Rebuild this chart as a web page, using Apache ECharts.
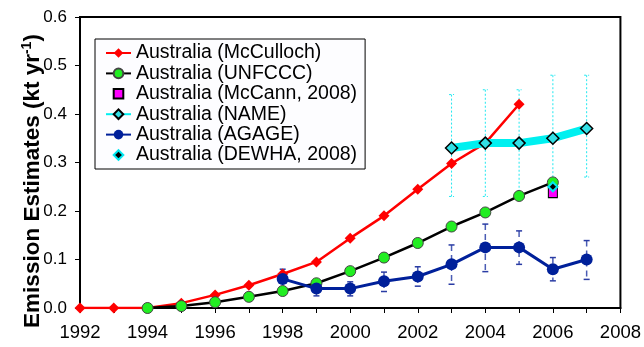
<!DOCTYPE html>
<html>
<head>
<meta charset="utf-8">
<script src="https://cdn.jsdelivr.net/npm/echarts@6/dist/echarts.min.js"></script>
<style>
  html, body { margin: 0; padding: 0; background: #fff; }
  #chart { width: 644px; height: 347px; }
</style>
</head>
<body>
<div id="chart"></div>
<script>
// Australian emission estimates (kt/yr) from several inventories and inversions
const mccullochYears  = [1992, 1993, 1994, 1995, 1996, 1997, 1998, 1999, 2000, 2001, 2002, 2003, 2004, 2005];
const mccullochValues = [0, 0, 0, 0.01, 0.027, 0.047, 0.07, 0.095, 0.144, 0.19, 0.245, 0.298, 0.34, 0.42];

const unfcccYears  = [1994, 1995, 1996, 1997, 1998, 1999, 2000, 2001, 2002, 2003, 2004, 2005, 2006];
const unfcccValues = [0, 0.004, 0.012, 0.023, 0.035, 0.051, 0.076, 0.104, 0.134, 0.168, 0.197, 0.231, 0.259];

const mccannYears  = [2006];
const mccannValues = [0.24];

const nameYears  = [2003, 2004, 2005, 2006, 2007];
const nameValues = [0.33, 0.34, 0.34, 0.35, 0.37];
const nameLow    = [0.23, 0.23, 0.23, 0.25, 0.27];
const nameHigh   = [0.44, 0.45, 0.45, 0.48, 0.48];

const agageYears  = [1998, 1999, 2000, 2001, 2002, 2003, 2004, 2005, 2006, 2007];
const agageValues = [0.06, 0.04, 0.04, 0.055, 0.065, 0.09, 0.125, 0.125, 0.08, 0.1];
const agageLow    = [0.04, 0.025, 0.025, 0.034, 0.045, 0.049, 0.075, 0.09, 0.056, 0.059];
const agageHigh   = [0.08, 0.053, 0.054, 0.074, 0.085, 0.13, 0.173, 0.159, 0.104, 0.139];

const dewhaYears  = [2006];
const dewhaValues = [0.25];

const yTicks = [0, 0.1, 0.2, 0.3, 0.4, 0.5, 0.6];
const xTicks = [1992, 1994, 1996, 1998, 2000, 2002, 2004, 2006, 2008];

const FONT = 'Liberation Sans, Arial, sans-serif';
const pairs = (xs, ys) => xs.map((x, i) => [x, ys[i]]);

// vertical error bar drawn through the axis scales
function errorBars(id, xs, lo, hi, barStyle, capStyle, capHalf, z) {
  return {
    type: 'custom',
    id: id,
    name: id,
    silent: true,
    z: z,
    data: xs.map((x, i) => [x, lo[i], hi[i]]),
    encode: { x: 0, y: [1, 2] },
    renderItem: function (params, api) {
      const x = api.value(0);
      const top = api.coord([x, api.value(2)]);
      const bot = api.coord([x, api.value(1)]);
      return {
        type: 'group',
        children: [
          { type: 'line', shape: { x1: top[0], y1: top[1], x2: bot[0], y2: bot[1] }, style: barStyle },
          { type: 'line', shape: { x1: top[0] - capHalf, y1: top[1], x2: top[0] + capHalf, y2: top[1] }, style: capStyle },
          { type: 'line', shape: { x1: bot[0] - capHalf, y1: bot[1], x2: bot[0] + capHalf, y2: bot[1] }, style: capStyle }
        ]
      };
    }
  };
}

const chart = echarts.init(document.getElementById('chart'), null, { renderer: 'canvas' });

const legendNames = [
  'Australia (McCulloch)',
  'Australia (UNFCCC)',
  'Australia (McCann, 2008)',
  'Australia (NAME)',
  'Australia (AGAGE)',
  'Australia (DEWHA, 2008)'
];

chart.setOption({
  backgroundColor: '#fff',
  animation: false,
  grid: {
    left: 80, right: 23, top: 17, bottom: 39,
    show: true, borderColor: '#000', borderWidth: 2, backgroundColor: '#fff'
  },
  legend: {
    data: legendNames,
    orient: 'vertical',
    left: 95, top: 39,
    itemWidth: 25, itemHeight: 12, itemGap: 0.4,
    padding: [4, 8, 4, 10],
    backgroundColor: '#fdfdff',
    borderColor: '#000', borderWidth: 1,
    selectedMode: false,
    textStyle: { fontFamily: FONT, fontSize: 19.5, color: '#000', lineHeight: 19 }
  },
  xAxis: {
    type: 'value',
    min: xTicks[0], max: xTicks[xTicks.length - 1], interval: 2,
    axisLine: { show: true, lineStyle: { color: '#000', width: 2 } },
    axisTick: { show: true, length: 5, lineStyle: { color: '#000', width: 1 } },
    minorTick: { show: true, splitNumber: 2, length: 5, lineStyle: { color: '#000', width: 1 } },
    axisLabel: { margin: 15, fontFamily: FONT, fontSize: 18.5, color: '#000', formatter: v => String(v) },
    splitLine: { show: false }
  },
  yAxis: {
    type: 'value',
    min: yTicks[0], max: yTicks[yTicks.length - 1], interval: 0.1,
    axisLine: { show: true, lineStyle: { color: '#000', width: 2 } },
    axisTick: { show: true, length: 5, lineStyle: { color: '#000', width: 1 } },
    axisLabel: { margin: 13, fontFamily: FONT, fontSize: 17, color: '#000', formatter: v => v.toFixed(1) },
    splitLine: { show: false }
  },
  graphic: [{
    type: 'text',
    x: 32, y: 181,
    rotation: Math.PI / 2,
    style: {
      text: '{b|Emission Estimates (kt yr}{s|-1}{b|)}',
      align: 'center',
      verticalAlign: 'middle',
      rich: {
        b: { fontFamily: FONT, fontSize: 22.5, fontWeight: 'bold', fill: '#000', lineHeight: 24, verticalAlign: 'bottom' },
        s: { fontFamily: FONT, fontSize: 14, fontWeight: 'bold', fill: '#000', lineHeight: 24, verticalAlign: 'top' }
      }
    }
  }],
  series: [
    errorBars('NAME range', nameYears, nameLow, nameHigh,
      { stroke: '#22e8f0', lineWidth: 1, lineDash: [2, 2] },
      { stroke: '#22e8f0', lineWidth: 1, lineDash: [2, 2] }, 2.5, 1),
    errorBars('AGAGE range', agageYears, agageLow, agageHigh,
      { stroke: '#4a5cb4', lineWidth: 1.5, lineDash: [6, 4] },
      { stroke: '#2a3ca4', lineWidth: 1.5 }, 3, 1),
    {
      name: 'Australia (McCulloch)', type: 'line', z: 3,
      data: pairs(mccullochYears, mccullochValues),
      symbol: 'diamond', symbolSize: 11,
      lineStyle: { color: '#ff0000', width: 2.5 },
      itemStyle: { color: '#ff0000' }
    },
    {
      name: 'Australia (UNFCCC)', type: 'line', z: 3,
      data: pairs(unfcccYears, unfcccValues),
      symbol: 'circle', symbolSize: 11,
      lineStyle: { color: '#000', width: 2.5 },
      itemStyle: { color: '#22ee22', borderColor: '#444', borderWidth: 1 }
    },
    {
      name: 'Australia (McCann, 2008)', type: 'line', z: 2,
      data: pairs(mccannYears, mccannValues),
      symbol: 'rect', symbolSize: [9, 12],
      lineStyle: { width: 0, opacity: 0 },
      itemStyle: { color: '#ff00ff', borderColor: '#000', borderWidth: 1.2 }
    },
    {
      name: 'Australia (NAME)', type: 'line', z: 4,
      data: pairs(nameYears, nameValues),
      symbol: 'diamond', symbolSize: 12,
      lineStyle: { color: '#00f0f0', width: 8 },
      itemStyle: { color: '#33e0e6', borderColor: '#000', borderWidth: 1.5 }
    },
    {
      name: 'Australia (AGAGE)', type: 'line', z: 3,
      data: pairs(agageYears, agageValues),
      symbol: 'circle', symbolSize: 12,
      lineStyle: { color: '#00209a', width: 3 },
      itemStyle: { color: '#00209a' }
    },
    {
      name: 'Australia (DEWHA, 2008)', type: 'line', z: 5,
      data: pairs(dewhaYears, dewhaValues),
      symbol: 'diamond', symbolSize: 9,
      lineStyle: { width: 0, opacity: 0 },
      itemStyle: { color: '#000', borderColor: '#00e8f0', borderWidth: 2 }
    }
  ]
});
</script>
</body>
</html>
